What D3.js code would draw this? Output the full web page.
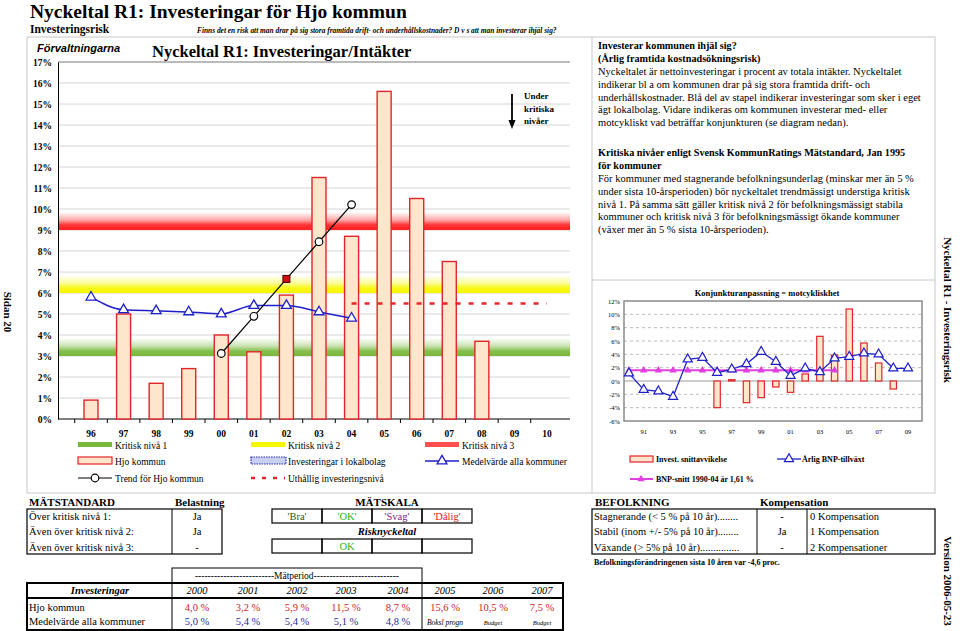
<!DOCTYPE html>
<html>
<head>
<meta charset="utf-8">
<script src="https://cdn.jsdelivr.net/npm/d3@7"></script>
<style>
  body { margin: 0; background: #fff; }
  svg { display: block; font-family: "Liberation Serif", "Times New Roman", serif; }
</style>
</head>
<body>
<svg id="chart" width="960" height="631"></svg>
<script>
// ---- data: main chart ----
const years = ["96","97","98","99","00","01","02","03","04","05","06","07","08","09","10"];
const hjoInvest = [0.9, 5.0, 1.7, 2.4, 4.0, 3.2, 5.9, 11.5, 8.7, 15.6, 10.5, 7.5, 3.7, null, null];
const medelYears = ["96","97","98","99","00","01","02","03","04"];
const medelVarde = [5.8, 5.2, 5.15, 5.1, 5.0, 5.4, 5.4, 5.1, 4.8];
const trendYears = ["00","01","02","03","04"];
const trendHjo = [3.12, 4.89, 6.67, 8.44, 10.21];
const uthalligYears = ["04","05","06","07","08","09","10"];
const uthalligNiva = [5.5, 5.5, 5.5, 5.5, 5.5, 5.5, 5.5];
const kritiskNiva = [3, 6, 9];
const yTicks = d3.range(0, 18);

// ---- data: konjunktur chart ----
const bnpYears = ["90","91","92","93","94","95","96","97","98","99","00","01","02","03","04","05","06","07","08","09"];
const bnpTillvaxt = [1.15, -1.3, -1.55, -2.35, 3.25, 3.5, 1.25, 1.75, 2.55, 4.4, 2.9, 0.8, 1.9, 1.35, 3.4, 3.65, 4.15, 4.0, 1.9, 1.9];
const avvikYears = ["96","97","98","99","00","01","02","03","04","05","06","07","08"];
const investAvvik = [-4.0, 0.2, -3.25, -2.5, -0.9, -1.7, 1.05, 6.7, 3.9, 10.8, 5.7, 2.7, -1.2];
const snittYears = ["90","91","92","93","94","95","96","97","98","99","00","01","02","03","04"];
const bnpSnitt = 1.61;
const kTicks = [-6, -4, -2, 0, 2, 4, 6, 8, 10, 12];
const kLabelYears = ["91","93","95","97","99","01","03","05","07","09"];

// ---- data: tables ----
const tableYears = ["2000","2001","2002","2003","2004","2005","2006","2007"];
const hjoTable = [4.0, 3.2, 5.9, 11.5, 8.7, 15.6, 10.5, 7.5];
const medelTable = [5.0, 5.4, 5.4, 5.1, 4.8];
const medelNotes = ["Boksl progn", "Budget", "Budget"];
const matRows = ["Över kritisk nivå 1:", "Även över kritisk nivå 2:", "Även över kritisk nivå 3:"];
const matValues = ["Ja", "Ja", "-"];
const skala = ["'Bra'", "'OK'", "'Svag'", "'Dålig'"];
const befRows = ["Stagnerande (< 5 % på 10 år)........", "Stabil (inom +/- 5% på 10 år)........", "Växande (> 5% på 10 år)..............."];
const befValues = ["-", "Ja", "-"];
const kompRows = ["0 Kompensation", "1 Kompensation", "2 Kompensationer"];

const textPara1 = [
  "Nyckeltalet är nettoinvesteringar i procent av totala intäkter. Nyckeltalet",
  "indikerar bl a om kommunen drar på sig stora framtida drift- och",
  "underhållskostnader. Blå del av stapel indikerar investeringar som sker i eget",
  "ägt lokalbolag. Vidare indikeras om kommunen investerar med- eller",
  "motcykliskt vad beträffar konjunkturen (se diagram nedan)."
];
const textPara2 = [
  "För kommuner med stagnerande befolkningsunderlag (minskar mer  än 5 %",
  "under sista 10-årsperioden) bör nyckeltalet trendmässigt understiga kritisk",
  "nivå 1. På samma sätt gäller kritisk nivå 2 för befolkningsmässigt stabila",
  "kommuner och kritisk nivå 3 för befolkningsmässigt ökande kommuner",
  "(växer mer än 5 % sista 10-årsperioden)."
];

const svg = d3.select("#chart");
const fmt = v => d3.format(".1f")(v).replace(".", ",") + " %";

// ---- header ----
svg.append("text").attr("x", 30).attr("y", 18).attr("font-size", 19.5).attr("font-weight", "bold")
  .text("Nyckeltal R1: Investeringar för Hjo kommun");
svg.append("text").attr("x", 30).attr("y", 33).attr("font-size", 11.5).attr("font-weight", "bold")
  .text("Investeringsrisk");
svg.append("text").attr("x", 197).attr("y", 33).attr("font-size", 7.4).attr("font-weight", "bold").attr("font-style", "italic")
  .text("Finns det en risk att man drar på sig stora framtida drift- och underhållskostnader? D v s att man investerar ihjäl sig?");

// frame
svg.append("rect").attr("x", 27).attr("y", 37).attr("width", 908).attr("height", 456)
  .attr("fill", "none").attr("stroke", "#c8c8c8");
svg.append("line").attr("x1", 592).attr("x2", 592).attr("y1", 37).attr("y2", 493).attr("stroke", "#c8c8c8");
svg.append("line").attr("x1", 592).attr("x2", 935).attr("y1", 280).attr("y2", 280).attr("stroke", "#c8c8c8");

// side texts
svg.append("text").attr("transform", "translate(4,312) rotate(90)").attr("text-anchor", "middle")
  .attr("font-size", 11).attr("font-weight", "bold").text("Sidan 20");
svg.append("text").attr("transform", "translate(944,310) rotate(90)").attr("text-anchor", "middle")
  .attr("font-size", 11).attr("font-weight", "bold").text("Nyckeltal R1 - Investeringsrisk");
svg.append("text").attr("transform", "translate(944,581) rotate(90)").attr("text-anchor", "middle")
  .attr("font-size", 11).attr("font-weight", "bold").text("Version 2006-05-23");

// ---- main chart ----
const x = d3.scalePoint().domain(years).range([91, 547]);
const y = d3.scaleLinear().domain([0, 17]).range([419, 62]);
const plotLeft = 58, plotRight = 570;

svg.append("text").attr("x", 37).attr("y", 52).attr("font-family", "Liberation Sans, Arial, sans-serif")
  .attr("font-size", 11).attr("font-weight", "bold").attr("font-style", "italic").text("Förvaltningarna");
svg.append("text").attr("x", 152).attr("y", 57).attr("font-size", 16.5).attr("font-weight", "bold")
  .text("Nyckeltal R1: Investeringar/Intäkter");

// grid
svg.append("g").selectAll("line").data(yTicks.filter(d => d > 0 && d < 17)).join("line")
  .attr("x1", plotLeft).attr("x2", plotRight).attr("y1", d => y(d)).attr("y2", d => y(d))
  .attr("stroke", "#d4d4d4").attr("stroke-width", 1);
svg.append("line").attr("x1", plotLeft).attr("x2", plotRight).attr("y1", y(17)).attr("y2", y(17))
  .attr("stroke", "#777").attr("stroke-width", 1.2);

// critical bands (gradient fading upward)
const bandColors = ["#78b83a", "#f7f700", "#ff1f1f"];
const defs = svg.append("defs");
kritiskNiva.forEach((v, i) => {
  const g = defs.append("linearGradient").attr("id", "band" + i).attr("x1", 0).attr("x2", 0).attr("y1", 0).attr("y2", 1);
  g.append("stop").attr("offset", "0%").attr("stop-color", bandColors[i]).attr("stop-opacity", 0);
  g.append("stop").attr("offset", "45%").attr("stop-color", bandColors[i]).attr("stop-opacity", 0.4);
  g.append("stop").attr("offset", "72%").attr("stop-color", bandColors[i]).attr("stop-opacity", 0.9);
  g.append("stop").attr("offset", "100%").attr("stop-color", bandColors[i]).attr("stop-opacity", 1);
});
svg.append("g").selectAll("rect").data(kritiskNiva).join("rect")
  .attr("x", plotLeft + 1).attr("width", plotRight - plotLeft - 1)
  .attr("y", d => y(d) - 18).attr("height", 18)
  .attr("fill", (d, i) => `url(#band${i})`);

// axes
const yAxis = svg.append("g").attr("transform", `translate(${plotLeft},0)`)
  .call(d3.axisLeft(y).tickValues(yTicks).tickFormat(d => d + "%").tickSize(0).tickPadding(6));
yAxis.select(".domain").attr("stroke", "#000");
yAxis.selectAll("text").attr("font-family", "Liberation Serif, serif").attr("font-size", 9.5).attr("font-weight", "bold");

svg.append("line").attr("x1", plotLeft).attr("x2", plotRight).attr("y1", y(0)).attr("y2", y(0)).attr("stroke", "#000");
const step = x.step();
svg.append("g").selectAll("line").data(years).join("line")
  .attr("x1", d => x(d) - step / 2).attr("x2", d => x(d) - step / 2)
  .attr("y1", y(0)).attr("y2", y(0) + 4).attr("stroke", "#000");
svg.append("g").selectAll("text").data(years).join("text")
  .attr("x", d => x(d)).attr("y", 437).attr("text-anchor", "middle")
  .attr("font-size", 9.5).attr("font-weight", "bold").text(d => d);

// bars
svg.append("g").selectAll("rect").data(years.filter((d, i) => hjoInvest[i] != null)).join("rect")
  .attr("x", d => x(d) - 7).attr("width", 14)
  .attr("y", d => y(hjoInvest[years.indexOf(d)]))
  .attr("height", d => y(0) - y(hjoInvest[years.indexOf(d)]))
  .attr("fill", "#fde6cc").attr("stroke", "#e1262a").attr("stroke-width", 1.4);

// uthållig investeringsnivå
svg.append("path").datum(uthalligYears)
  .attr("d", d3.line().x(d => x(d)).y((d, i) => y(uthalligNiva[i])))
  .attr("fill", "none").attr("stroke", "#e8262a").attr("stroke-width", 2.6).attr("stroke-dasharray", "5,8");

// medelvärde
svg.append("path").datum(medelYears)
  .attr("d", d3.line().curve(d3.curveMonotoneX).x(d => x(d)).y((d, i) => y(medelVarde[i])))
  .attr("fill", "none").attr("stroke", "#1f1fc8").attr("stroke-width", 1.5);
const tri = d3.symbol().type(d3.symbolTriangle).size(42);
svg.append("g").selectAll("path").data(medelYears).join("path")
  .attr("transform", (d, i) => `translate(${x(d)},${y(medelVarde[i])})`)
  .attr("d", tri).attr("fill", "#fff").attr("stroke", "#1f1fc8").attr("stroke-width", 1.3);

// trend
svg.append("path").datum(trendYears)
  .attr("d", d3.line().x(d => x(d)).y((d, i) => y(trendHjo[i])))
  .attr("fill", "none").attr("stroke", "#000").attr("stroke-width", 1.2);
svg.append("g").selectAll("circle").data(trendYears.filter(d => d !== "02")).join("circle")
  .attr("cx", d => x(d)).attr("cy", d => y(trendHjo[trendYears.indexOf(d)])).attr("r", 3.8)
  .attr("fill", "#fff").attr("stroke", "#000").attr("stroke-width", 1.2);
svg.append("rect").attr("x", x("02") - 3.5).attr("y", y(trendHjo[2]) - 3.5).attr("width", 7).attr("height", 7)
  .attr("fill", "#d01010").attr("stroke", "#400").attr("stroke-width", 1);

// "Under kritiska nivåer"
const arrowX = 512;
svg.append("line").attr("x1", arrowX).attr("x2", arrowX).attr("y1", 94).attr("y2", 121)
  .attr("stroke", "#000").attr("stroke-width", 1.8);
svg.append("path").attr("d", `M${arrowX - 3.5},120 L${arrowX + 3.5},120 L${arrowX},129 Z`).attr("fill", "#000");
["Under", "kritiska", "nivåer"].forEach((t, i) => {
  svg.append("text").attr("x", 524).attr("y", 99 + i * 12.5).attr("font-size", 9).attr("font-weight", "bold").text(t);
});

// legend
const legend = [
  {label: "Kritisk nivå 1", type: "band", color: bandColors[0], col: 0, row: 0},
  {label: "Kritisk nivå 2", type: "band", color: bandColors[1], col: 1, row: 0},
  {label: "Kritisk nivå 3", type: "band", color: "#ff5050", col: 2, row: 0},
  {label: "Hjo kommun", type: "bar", col: 0, row: 1},
  {label: "Investeringar i lokalbolag", type: "dotted", col: 1, row: 1},
  {label: "Medelvärde alla kommuner", type: "tri", col: 2, row: 1},
  {label: "Trend för Hjo kommun", type: "circle", col: 0, row: 2},
  {label: "Uthållig investeringsnivå", type: "dash", col: 1, row: 2}
];
const legX = [78, 251, 425], legY = [445, 461, 478];
legend.forEach(l => {
  const lx = legX[l.col], ly = legY[l.row];
  const g = svg.append("g");
  if (l.type === "band") g.append("rect").attr("x", lx).attr("y", ly - 3).attr("width", 34).attr("height", 5).attr("fill", l.color);
  if (l.type === "bar") g.append("rect").attr("x", lx).attr("y", ly - 4).attr("width", 34).attr("height", 7).attr("fill", "#fde6cc").attr("stroke", "#e1262a").attr("stroke-width", 1.2);
  if (l.type === "dotted") g.append("rect").attr("x", lx).attr("y", ly - 4).attr("width", 35).attr("height", 7).attr("fill", "#c8d0f0").attr("stroke", "#2a2ab0").attr("stroke-width", 1.2).attr("stroke-dasharray", "1.5,1");
  if (l.type === "tri") {
    g.append("line").attr("x1", lx).attr("x2", lx + 34).attr("y1", ly).attr("y2", ly).attr("stroke", "#1f1fc8").attr("stroke-width", 1.5);
    g.append("path").attr("transform", `translate(${lx + 17},${ly})`).attr("d", tri).attr("fill", "#fff").attr("stroke", "#1f1fc8").attr("stroke-width", 1.3);
  }
  if (l.type === "circle") {
    g.append("line").attr("x1", lx).attr("x2", lx + 34).attr("y1", ly).attr("y2", ly).attr("stroke", "#000").attr("stroke-width", 1.2);
    g.append("circle").attr("cx", lx + 17).attr("cy", ly).attr("r", 3.8).attr("fill", "#fff").attr("stroke", "#000").attr("stroke-width", 1.2);
  }
  if (l.type === "dash") g.append("line").attr("x1", lx).attr("x2", lx + 34).attr("y1", ly).attr("y2", ly).attr("stroke", "#e8262a").attr("stroke-width", 2.6).attr("stroke-dasharray", "4,7");
  g.append("text").attr("x", lx + 37).attr("y", ly + 3.5).attr("font-size", 9.5).text(l.label);
});

// ---- right text panel ----
const tp = svg.append("g").attr("font-size", 10.5);
tp.append("text").attr("x", 598).attr("y", 49).attr("font-weight", "bold").attr("font-size", 10.2).text("Investerar kommunen ihjäl sig?");
tp.append("text").attr("x", 598).attr("y", 62).attr("font-weight", "bold").attr("font-size", 10.2).text("(Årlig framtida kostnadsökningsrisk)");
textPara1.forEach((t, i) => tp.append("text").attr("x", 598).attr("y", 75 + i * 12.8).text(t));
tp.append("text").attr("x", 598).attr("y", 156).attr("font-weight", "bold").attr("font-size", 10.2).text("Kritiska nivåer enligt Svensk KommunRatings Mätstandard, Jan 1995");
tp.append("text").attr("x", 598).attr("y", 168.5).attr("font-weight", "bold").attr("font-size", 10.2).text("för kommuner");
textPara2.forEach((t, i) => tp.append("text").attr("x", 598).attr("y", 182 + i * 12.8).text(t));

// ---- konjunktur chart ----
const kx = d3.scalePoint().domain(bnpYears).range([629, 908]);
const ky = d3.scaleLinear().domain([-6, 12]).range([421, 301]);
const kLeft = 624, kRight = 922;

svg.append("text").attr("x", 767).attr("y", 296).attr("text-anchor", "middle")
  .attr("font-size", 8.5).attr("font-weight", "bold").text("Konjunkturanpassning = motcykliskhet");
svg.append("g").selectAll("line").data(kTicks.filter(d => d !== -6 && d !== 12)).join("line")
  .attr("x1", kLeft).attr("x2", kRight).attr("y1", d => ky(d)).attr("y2", d => ky(d))
  .attr("stroke", d => d === 0 ? "#9a9a9a" : "#bbb").attr("stroke-dasharray", d => d === 0 ? null : "3,3");
svg.append("rect").attr("x", kLeft).attr("y", ky(12)).attr("width", kRight - kLeft).attr("height", ky(-6) - ky(12))
  .attr("fill", "none").attr("stroke", "#8a8a8a").attr("stroke-width", 1.5);
svg.append("g").selectAll("text").data(kTicks).join("text")
  .attr("x", kLeft - 4).attr("y", d => ky(d) + 2.5).attr("text-anchor", "end").attr("font-size", 6.5)
  .text(d => d + "%");
svg.append("g").selectAll("text").data(kLabelYears).join("text")
  .attr("x", d => kx(d)).attr("y", 434).attr("text-anchor", "middle").attr("font-size", 6.5).text(d => d);

svg.append("g").selectAll("rect").data(avvikYears).join("rect")
  .attr("x", d => kx(d) - 3.2).attr("width", 6.4)
  .attr("y", (d, i) => ky(Math.max(0, investAvvik[i])))
  .attr("height", (d, i) => Math.abs(ky(investAvvik[i]) - ky(0)))
  .attr("fill", "#fde6cc").attr("stroke", "#e1262a").attr("stroke-width", 1.2);

svg.append("path").datum(snittYears)
  .attr("d", d3.line().x(d => kx(d)).y(() => ky(bnpSnitt)))
  .attr("fill", "none").attr("stroke", "#e040e0").attr("stroke-width", 2);
const smallTri = d3.symbol().type(d3.symbolTriangle).size(24);
svg.append("g").selectAll("path").data(snittYears).join("path")
  .attr("transform", d => `translate(${kx(d)},${ky(bnpSnitt)})`).attr("d", smallTri).attr("fill", "#e040e0");

svg.append("path").datum(bnpYears)
  .attr("d", d3.line().x(d => kx(d)).y((d, i) => ky(bnpTillvaxt[i])))
  .attr("fill", "none").attr("stroke", "#1f1fc8").attr("stroke-width", 1.3);
const kTri = d3.symbol().type(d3.symbolTriangle).size(36);
svg.append("g").selectAll("path").data(bnpYears).join("path")
  .attr("transform", (d, i) => `translate(${kx(d)},${ky(bnpTillvaxt[i])})`)
  .attr("d", kTri).attr("fill", "#fff").attr("stroke", "#1f1fc8").attr("stroke-width", 1.2);

// konjunktur legend
const kl = svg.append("g").attr("font-size", 8).attr("font-weight", "bold");
kl.append("rect").attr("x", 630).attr("y", 456).attr("width", 23).attr("height", 6).attr("fill", "#fde6cc").attr("stroke", "#e1262a").attr("stroke-width", 1.2);
kl.append("text").attr("x", 656).attr("y", 462).text("Invest. snittavvikelse");
kl.append("line").attr("x1", 777).attr("x2", 801).attr("y1", 459).attr("y2", 459).attr("stroke", "#1f1fc8").attr("stroke-width", 1.3);
kl.append("path").attr("transform", "translate(789,459)").attr("d", kTri).attr("fill", "#fff").attr("stroke", "#1f1fc8").attr("stroke-width", 1.2);
kl.append("text").attr("x", 802).attr("y", 462).text("Årlig BNP-tillväxt");
kl.append("line").attr("x1", 630).attr("x2", 653).attr("y1", 479).attr("y2", 479).attr("stroke", "#e040e0").attr("stroke-width", 2);
kl.append("path").attr("transform", "translate(641,479)").attr("d", smallTri).attr("fill", "#e040e0");
kl.append("text").attr("x", 656).attr("y", 482).text("BNP-snitt 1990-04 är 1,61 %");

// ---- bottom: mätstandard ----
const bt = svg.append("g").attr("font-size", 10.5);
bt.append("text").attr("x", 29).attr("y", 506).attr("font-weight", "bold").attr("font-size", 11).text("MÄTSTANDARD");
bt.append("text").attr("x", 175).attr("y", 506).attr("font-weight", "bold").attr("font-size", 11).text("Belastning");
bt.append("rect").attr("x", 27).attr("y", 509).attr("width", 195).attr("height", 45).attr("fill", "none").attr("stroke", "#000").attr("stroke-width", 1.2);
bt.append("line").attr("x1", 172).attr("x2", 172).attr("y1", 509).attr("y2", 554).attr("stroke", "#000");
matRows.forEach((t, i) => {
  bt.append("text").attr("x", 29).attr("y", 520 + i * 15.3).text(t);
  bt.append("text").attr("x", 197).attr("y", 520 + i * 15.3).attr("text-anchor", "middle").text(matValues[i]);
});

// mätskala
const skalaColors = ["#1a5c1a", "#22bb22", "#7a2a8a", "#e02020"];
bt.append("text").attr("x", 387).attr("y", 506).attr("text-anchor", "middle").attr("font-weight", "bold").attr("font-size", 11).text("MÄTSKALA");
[509, 539].forEach(ry => {
  skala.forEach((s, i) => {
    bt.append("rect").attr("x", 272 + i * 50).attr("y", ry).attr("width", 50).attr("height", 14)
      .attr("fill", "none").attr("stroke", "#000").attr("stroke-width", 1.2);
  });
});
skala.forEach((s, i) => {
  bt.append("text").attr("x", 297 + i * 50).attr("y", 520).attr("text-anchor", "middle").attr("fill", skalaColors[i]).text(s);
});
bt.append("text").attr("x", 387).attr("y", 535).attr("text-anchor", "middle").attr("font-weight", "bold").attr("font-style", "italic").text("Risknyckeltal");
bt.append("text").attr("x", 347).attr("y", 550).attr("text-anchor", "middle").attr("fill", "#22bb22").text("OK");

// mätperiod table
const colX = [197, 248, 297, 346, 398, 445, 493, 542];
bt.append("rect").attr("x", 172).attr("y", 568).attr("width", 250).attr("height", 15).attr("fill", "none").attr("stroke", "#000");
bt.append("text").attr("x", 297).attr("y", 579).attr("text-anchor", "middle").attr("font-size", 9.5)
  .text("-------------------------Mätperiod---------------------------");
bt.append("rect").attr("x", 27).attr("y", 583).attr("width", 536).attr("height", 47).attr("fill", "none").attr("stroke", "#000").attr("stroke-width", 2);
bt.append("line").attr("x1", 27).attr("x2", 563).attr("y1", 598).attr("y2", 598).attr("stroke", "#000").attr("stroke-width", 2);
[172, 422].forEach(vx => bt.append("line").attr("x1", vx).attr("x2", vx).attr("y1", 583).attr("y2", 630).attr("stroke", "#000"));
bt.append("text").attr("x", 100).attr("y", 594).attr("text-anchor", "middle").attr("font-weight", "bold").attr("font-style", "italic").text("Investeringar");
tableYears.forEach((t, i) => bt.append("text").attr("x", colX[i]).attr("y", 594).attr("text-anchor", "middle").attr("font-style", "italic").text(t));
bt.append("text").attr("x", 29).attr("y", 611).text("Hjo kommun");
bt.append("text").attr("x", 29).attr("y", 625).text("Medelvärde alla kommuner");
hjoTable.forEach((v, i) => bt.append("text").attr("x", colX[i]).attr("y", 611).attr("text-anchor", "middle").attr("fill", "#c8242a").text(fmt(v)));
medelTable.forEach((v, i) => bt.append("text").attr("x", colX[i]).attr("y", 625).attr("text-anchor", "middle").attr("fill", "#2a2a9a").text(fmt(v)));
medelNotes.forEach((t, i) => bt.append("text").attr("x", colX[5 + i]).attr("y", 625).attr("text-anchor", "middle")
  .attr("font-style", "italic").attr("font-size", i === 0 ? 7.5 : 6.5).text(t));

// befolkning table
bt.append("text").attr("x", 595).attr("y", 506).attr("font-weight", "bold").attr("font-size", 11).text("BEFOLKNING");
bt.append("text").attr("x", 760).attr("y", 506).attr("font-weight", "bold").attr("font-size", 11).text("Kompensation");
bt.append("rect").attr("x", 592).attr("y", 509).attr("width", 343).attr("height", 45).attr("fill", "none").attr("stroke", "#000").attr("stroke-width", 1.2);
[757, 807].forEach(vx => bt.append("line").attr("x1", vx).attr("x2", vx).attr("y1", 509).attr("y2", 554).attr("stroke", "#000"));
befRows.forEach((t, i) => {
  bt.append("text").attr("x", 594).attr("y", 520 + i * 15.3).text(t);
  bt.append("text").attr("x", 782).attr("y", 520 + i * 15.3).attr("text-anchor", "middle").text(befValues[i]);
  bt.append("text").attr("x", 810).attr("y", 520 + i * 15.3).text(kompRows[i]);
});
bt.append("text").attr("x", 594).attr("y", 565).attr("font-size", 8).attr("font-weight", "bold")
  .text("Befolkningsförändringenen sista 10 åren var -4,6 proc.");
</script>
</body>
</html>
